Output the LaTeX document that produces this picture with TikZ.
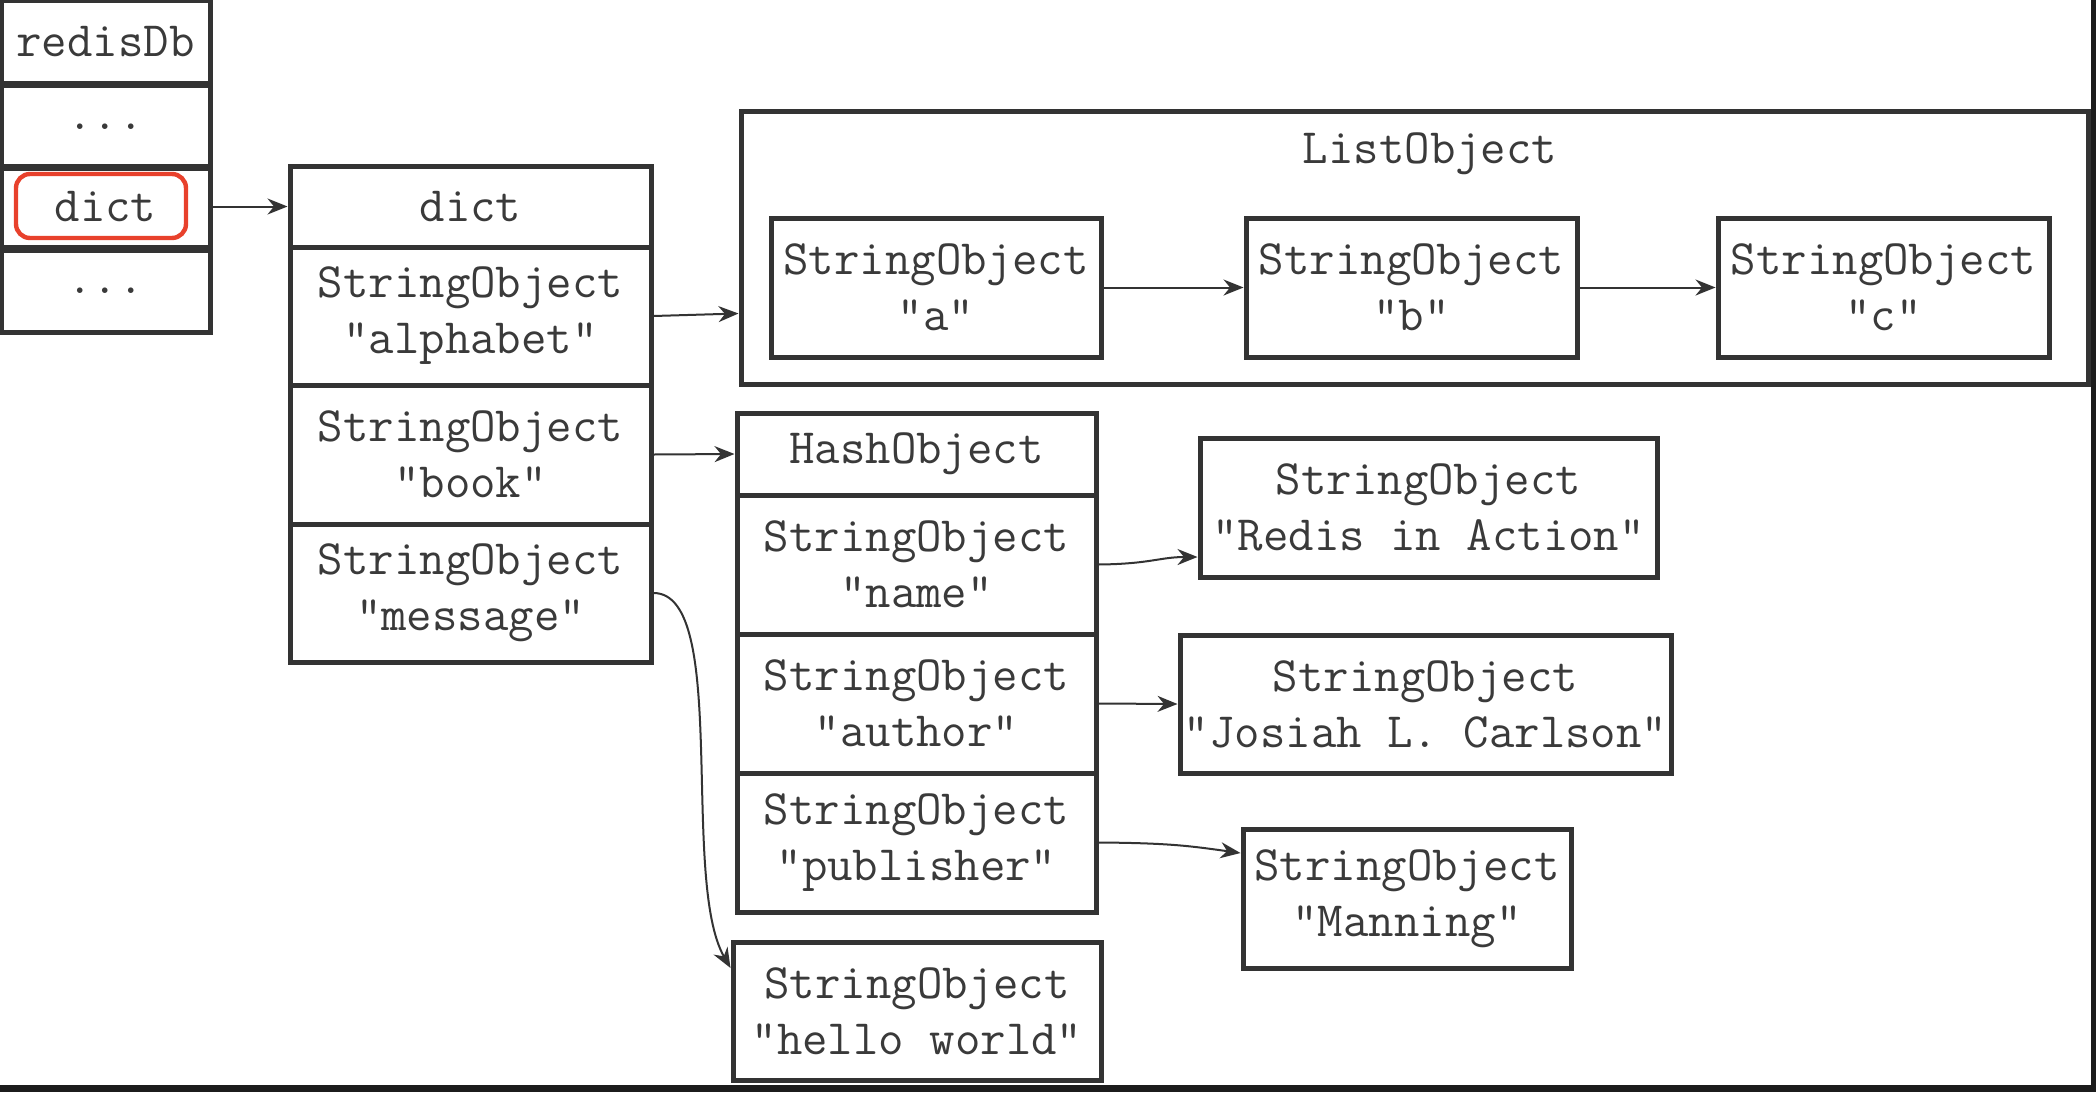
\documentclass[tikz,border=0pt]{standalone}
\usepackage{fontspec}
\usetikzlibrary{arrows.meta,calc}
\definecolor{ink}{HTML}{333333}
\definecolor{txt}{HTML}{3A3A3A}
\definecolor{redbox}{HTML}{E8412C}
\definecolor{bar}{HTML}{1C1C1C}
\tikzset{
  sz/.style 2 args={minimum width=#1*0.5pt, minimum height=#2*0.5pt},
  cell/.style={draw=ink, line width=2.5pt, inner sep=0pt, align=center,
    font=\ttfamily\fontsize{24.7}{28}\selectfont, text=txt},
  label/.style={inner sep=0pt, align=center, font=\ttfamily\fontsize{24.7}{28}\selectfont, text=txt},
  link/.style={draw=ink, line width=1pt, -{Stealth[length=10pt,width=8pt]}},
}
\begin{document}
\begin{tikzpicture}[x=0.5pt,y=-0.5pt]
\useasboundingbox (0,0) rectangle (2096,1092);
\fill[white] (0,0) rectangle (2096,1092);
% dark edges of the screenshot
\fill[bar] (0,1085) rectangle (2096,1092);
\fill[bar] (2091,0) rectangle (2096,1092);

% redisDb column
\node[cell, sz={209}{83}] (rdb) at (105.5,41.5) {redisDb};
\node[cell, sz={209}{83}] (rdots1) at (105.5,127) {...};
\node[cell, sz={209}{81}] (rdict) at (105.5,206.5) {dict};
\node[cell, sz={209}{82}] (rdots2) at (105.5,291) {...};
\node[draw=redbox, line width=2.2pt, rounded corners=7pt, sz={170}{64}] (hl) at (101,206) {};

% dict column
\node[cell, sz={361}{81}] (dhead) at (470.5,206.5) {dict};
\node[cell, sz={361}{138}] (dalpha) at (470.5,316) {StringObject\\"alphabet"};
\node[cell, sz={361}{139}] (dbook) at (470.5,454.5) {StringObject\\"book"};
\node[cell, sz={361}{138}] (dmsg) at (470.5,593) {StringObject\\"message"};

% ListObject
\node[cell, sz={1347}{273}] (list) at (1414.5,247.5) {};
\node[label] (ltitle) at (1430,154) {ListObject};
\node[cell, sz={330}{139}] (la) at (936,287.5) {StringObject\\"a"};
\node[cell, sz={331}{139}] (lb) at (1411.5,287.5) {StringObject\\"b"};
\node[cell, sz={331}{139}] (lc) at (1883.5,287.5) {StringObject\\"c"};

% HashObject column
\node[cell, sz={359}{82}] (hhead) at (916.5,454) {HashObject};
\node[cell, sz={359}{139}] (hname) at (916.5,564.5) {StringObject\\"name"};
\node[cell, sz={359}{139}] (hauthor) at (916.5,703.5) {StringObject\\"author"};
\node[cell, sz={359}{139}] (hpub) at (916.5,842.5) {StringObject\\"publisher"};

% values
\node[cell, sz={457}{139}] (vname) at (1428.5,507.5) {StringObject\\"Redis in Action"};
\node[cell, sz={491}{138}] (vauthor) at (1425.5,704) {StringObject\\"Josiah L. Carlson"};
\node[cell, sz={328}{139}] (vpub) at (1407,898.5) {StringObject\\"Manning"};
\node[cell, sz={368}{138}] (vmsg) at (917,1011) {StringObject\\"hello world"};

% connectors
\draw[link] (rdict.east) -- (dhead.west);
\draw[link] (dalpha.east) -- ($(list.west)+(0,66)$);
\draw[link] (la.east) -- (lb.west);
\draw[link] (lb.east) -- (lc.west);
\draw[link] (dbook.east) -- (hhead.west);
\draw[link] (hname.east) .. controls (1150,564) and (1160,557) .. ($(vname.west)+(0,49.5)$);
\draw[link] (hauthor.east) -- (vauthor.west);
\draw[link] (hpub.east) .. controls (1170,843) and (1190,846) .. ($(vpub.west)+(0,-45.5)$);
\draw[link] (dmsg.east) .. controls (730,593) and (680,880) .. ($(vmsg.west)+(0,-43)$);
\end{tikzpicture}
\end{document}
